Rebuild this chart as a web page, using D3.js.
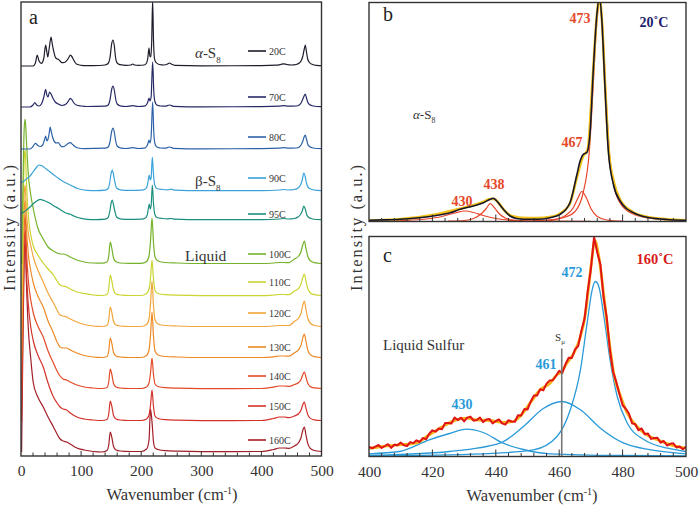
<!DOCTYPE html>
<html><head><meta charset="utf-8">
<script src="https://cdn.jsdelivr.net/npm/d3@7"></script>
<style>body{margin:0;background:#fff}svg{display:block}text{font-family:'Liberation Serif' !important}</style>
</head><body><svg id="chart" width="699" height="506"></svg>
<script>
// ---------------- DATA ----------------
const temps   = ["20C","70C","80C","90C","95C","100C","110C","120C","130C","140C","150C","160C"];
const offsets = [390, 349, 307, 265, 236, 192, 160, 129, 98, 67, 35, 4];
const colors  = ["#1e1d2b","#262a66","#2d62a8","#3aa2d9","#1b8f7e","#74b22a","#cbd431","#f2a63c","#ee8a26","#e34a27","#d3322a","#a21e27"];
const ticksA = [0,100,200,300,400,500];
const ticksC = [400,420,440,460,480,500];

// solid spectra [wavenumber, intensity]
const s20 = [[0,0],[20,0],[24,3],[27,11],[30,5],[34,2.7],[38,8],[41,21],[43,14],[44.5,9],[47,18],[50,29],[52,22],[54,16],[57,9],[60,7],[62,6.7],[65,5],[68,3.3],[72,3.5],[76,5.3],[80,9],[82,11],[84,10],[87,6.7],[90,3.5],[93,1.7],[100,0.7],[110,0.3],[130,0.5],[140,1],[145,2.5],[148,8],[151,22.7],[153,26],[155.5,19],[157,10],[159,4],[162,2],[165,1.3],[175,0.6],[183,1],[186,2],[189,1],[195,0.6],[205,1],[209,3],[211,8],[213,18],[214.5,10],[216,9],[217.5,25],[219,66],[220.5,25],[222,8],[224,4],[230,1.5],[238,1],[244,2],[247,3],[250,2],[256,0.6],[300,0.2],[400,0.3],[425,0.8],[432,1.5],[437,2.2],[442,1.5],[450,1],[458,1.5],[463,3],[466,5],[469,10],[471,16],[473,21],[475,14],[477,7],[480,3.5],[485,1.5],[492,0.6],[500,0.3]];
const s70 = [[0,0],[15,0],[20,2],[23,4.3],[26,2],[30,1],[34,3],[38,10],[41,17.7],[43,12],[45,10],[47.5,15],[50,13],[53,9],[57,5],[62,3],[68,1.5],[75,3],[80,7],[82,8.7],[85,7],[88,4],[92,2],[100,1],[110,0.5],[140,0.8],[145,2],[148,7],[151,18],[153,21],[155.5,16],[157.5,8],[160,3],[165,1.2],[175,0.5],[186,1.3],[195,0.5],[205,0.8],[209,2.5],[211,5],[213,9],[214.5,6],[216.5,10],[219,45],[221,15],[223,5],[226,2],[232,1],[240,0.8],[247,2],[254,0.7],[300,0.2],[400,0.3],[430,0.8],[437,1.3],[445,0.8],[458,1],[463,2],[466,4],[469,8],[471,11],[473,13],[475,9],[477,5],[480,2.5],[486,1],[500,0.3]];
const s80 = [[0,0],[15,0],[20,2.5],[24,5.7],[28,3.5],[32,2.5],[36,4],[39,9],[41,13],[43,8],[45,10],[47,16],[48.5,22],[50.5,17],[53,11],[56,7],[59,6],[62,6.3],[65,4],[68,2.3],[72,2.5],[77,5],[82,6.3],[86,4.5],[90,2.3],[95,1],[105,0.4],[140,0.8],[145,2],[148,7],[151,18],[153,21],[155.5,16],[157.5,8],[160,3],[165,1.2],[175,0.5],[186,1.3],[195,0.5],[205,0.8],[209,2.5],[211,5],[213,9],[214.5,6],[216.5,12],[219,47],[221,16],[223,5],[226,2],[232,1],[240,0.8],[247,2],[254,0.7],[300,0.2],[400,0.3],[430,0.8],[437,1.3],[445,0.8],[458,1],[463,2],[466,4],[469,8],[471,12],[473,14],[475,10],[477,5],[480,2.5],[486,1],[500,0.3]];
const s90 = [[0,8.3],[5,10],[10,12.5],[15,15],[20,19],[25,23],[30,26],[34,25.5],[37,24.3],[42,22],[48,19.3],[55,16],[62,12.7],[69,10],[76,7.7],[82,6],[87,4.5],[93,2.7],[100,1.5],[110,0.6],[125,0.3],[140,0.8],[145,2.5],[147.5,8],[150,18],[152,21],[154,16],[156.5,8],[159,3],[165,1.2],[180,0.6],[200,0.8],[207,2],[210,5],[212,12],[213.5,16],[215,11],[216.5,13],[218.5,34],[220.5,16],[222.5,6],[226,2.5],[235,1.5],[244,1.2],[250,1.8],[256,0.8],[300,0.3],[400,0.4],[430,1],[437,1.5],[445,1],[455,1.5],[461,3],[465,6],[468,11],[470.5,18],[473,14],[475,8],[478,3.5],[484,1.5],[492,0.6],[500,0.4]];
const s95 = [[0,6.7],[5,8],[10,10.5],[15,13],[20,16],[25,18.5],[31.7,20.7],[38,19.5],[48,16.7],[55,14],[62,11.7],[69,9],[76,6.7],[82,5.7],[87,4.2],[93,2.7],[100,1.6],[110,0.7],[125,0.3],[140,0.8],[145,2.5],[147.5,8],[150,17],[152,20],[154,15],[156.5,8],[159,3],[165,1.2],[180,0.6],[200,0.8],[207,2],[210,5],[212,12],[213.5,16],[215,11],[216.5,14],[218.5,35],[220.5,16],[222.5,6],[226,2.5],[235,1.5],[244,1.2],[250,1.5],[256,0.8],[300,0.3],[400,0.4],[430,1],[437,1.5],[445,1],[455,1.5],[461,3],[465,5.5],[468,9],[470.5,14],[473,11],[475,6],[478,3],[484,1.3],[492,0.5],[500,0.3]];

// liquid spectra on a shared wavenumber grid
const wLiquid = [1,3,5.5,7,9,12,16,20.5,28,37,45,54,60,65,70,76,82,93,105,120,135,143,146,148.5,151,154,158,165,180,200,209,213,215.5,218,220.5,223,228,240,260,300,400,420,430,438,446,455,462,466,469,471.5,474,477,481,488,500];
const l100 = [0,70,138,145,124,91,70,55,36,25,17,13,11,10,10,9,7,4,2,1,0.8,2,8,22,16,6,2.2,1,0.6,0.6,2.5,8,23,46,21,7,3,1.5,1,0.5,0.5,1,1.5,1.5,1.4,5,8,12.5,19.5,23,16,8,3.5,1.4,0.5];
const l110 = [0,70,139,146,115,82,62,50,41,33,27,21,15,11,10,9,7,4,2.5,1,0.5,1.5,7.5,21,15.5,6,2,1,0.5,0.5,2.5,7,18,36,16.5,5.5,2.5,1.3,0.8,0.4,0.4,1,1.5,1.5,1.4,5,7.7,12,18.7,22,15.4,7.7,3.3,1.3,0.5];
const l120 = [0,70,135,142,115,95,82,70,57,45,34,24,17,12,11,10,8,5,2.5,1,0.5,1.5,7,20,15,5.5,2,1,0.5,0.5,2.5,8,23,46,21,7,3,1.5,1,0.5,0.5,1,1.5,1.5,1.5,5.7,9,14,22,26,18,9,4,1.5,0.5];
const l130 = [0,75,150,158,130,105,88,75,62,51,37,25,16,11,10,10,8,5,2.5,1,0.5,1.5,7,20,15,5.5,2,1,0.5,0.5,2.5,8,23,46,21,7,3,1.5,1,0.5,0.5,1.2,2,2,1.8,5.3,8.4,13,20.4,24,17,8.4,3.6,1.4,0.5];
const l140 = [0,80,165,174,140,110,90,76,63,52,38,26,18,13,10,9,7,4,2,1,0.5,1.5,7,20,15,5.5,2,1,0.5,0.5,2,6,16,31,14,5,2.5,1.3,0.8,0.4,0.5,1.8,3,3,2.6,4.5,6.5,9.5,14.5,17,12,6,2.6,1.1,0.5];
const l150 = [0,90,182,191,150,118,95,80,66,54,38,24,18,14,12,11,8,4,2,1,0.5,1.5,7,20,15,5.5,2,1,0.5,0.5,2,6,16,31,14,5,2.5,1.3,0.8,0.4,0.5,2.5,4,4,3.4,5,7.5,11,16.5,19,13.3,6.6,2.9,1.2,0.5];
const l160 = [0,100,200,212,170,125,95,69,55,45,35,25,18,13,11,10,8,4,2,0.5,0,1.5,7,20,15,5.5,2,1,0.5,0.5,3,12,43,30,10,4,2.5,1.3,0.8,0.4,0.5,2.5,4,4,3.6,6,9.5,14.5,22,25,17.5,8.8,3.8,1.5,0.5];

// panel b (20 C): measured, fit and components
const bData = [[400,1.2],[405,1.6],[409.8,2.2],[415,3.5],[420.3,5.5],[423,7],[425.6,8.8],[428.7,12.2],[432.9,15.5],[436.1,18.8],[438.2,22.2],[439.2,23.2],[440.3,20.5],[442.4,12.2],[444.5,5.5],[446.5,3],[448.7,2.2],[452.9,2.2],[457.1,3.8],[460.3,7.2],[463.4,18.8],[465.5,45.7],[466.6,60.5],[467.6,67.2],[468.7,68.8],[469.7,87],[470.8,153.8],[471.8,203.8],[472.7,224],[473.4,203.8],[474.4,137],[475.5,70.5],[477.1,37],[479.2,20.5],[481.2,13],[483.4,8.8],[486,5.5],[488.6,3.8],[494,2],[499.1,1.2],[500,1.1]];
const bFit = [[400,1],[410,2.5],[420,6.5],[425,10],[429,13],[433,16.5],[436,19.5],[438.2,22.5],[439.5,22.5],[441,18],[443,10],[445,5.5],[448,3.8],[453,3.5],[457,4.5],[460,7.5],[463.4,18],[465.5,43],[467.5,65],[469,72],[470.5,140],[471.8,203],[472.7,224],[473.5,200],[474.5,135],[475.6,72],[477.2,40],[479.2,22],[483,10],[488,4.5],[494,2.3],[500,1.3]];
const b430 = [[400,0.3],[410,1],[418,2.5],[423,5],[427,8.5],[430.3,10.5],[433,9],[436,6],[440,3],[445,1.2],[455,0.4],[470,0.2]];
const b438 = [[425,0.3],[430,1],[433,3],[435.5,8],[437,13],[438.2,17.8],[439.5,14],[441,8],[443,3.5],[446,1.2],[452,0.3]];
const b467 = [[455,0.5],[459,2],[462,6],[464.5,14],[466,24],[467.1,30],[468.5,24],[470,13],[472,5],[475,1.5],[480,0.3]];
const b473 = [[452,0.8],[458,2],[462,4.5],[465,10],[467.5,28],[469.5,70],[470.8,140],[471.9,200],[472.8,222],[473.7,195],[474.7,130],[475.8,70],[477.3,35],[479.5,17],[483,8],[488,3.5],[495,1.5],[500,1]];

// panel c (160 C): measured (1 cm-1 steps from 400), fit and components
const cData = [9.5,8.2,9.9,11.5,8.5,10.5,12.3,8.6,11.8,11.2,14.0,11.2,10.5,14.4,13.4,16.2,14.5,18.6,17.2,22.8,26.2,24.8,28.0,27.2,33.4,33.5,32.9,39.0,36.4,38.8,35.1,38.9,39.9,35.8,36.4,39.0,34.4,37.1,37.6,33.0,35.5,37.0,33.1,31.9,36.3,35.0,34.7,41.3,41.1,47.4,47.0,54.8,60.9,60.9,67.2,66.1,72.9,76.1,76.2,80.8,85.7,83.6,92.5,98.7,98.5,107.1,110.5,125.8,138.0,165.5,187.5,219.5,204.0,192.0,159.0,138.8,106.5,84.8,74.6,62.5,51.2,47.8,43.0,33.1,32.2,26.3,28.0,22.2,23.1,17.6,18.5,18.8,13.8,15.5,11.0,12.7,13.2,9.0,10.0,7.2,9.8];
const cFit = [[400,8.3],[404.2,10],[409.5,11.7],[414.8,13.3],[419,21.7],[423.3,30],[427.5,36.7],[430.7,38.3],[433.9,36.7],[438.1,36],[442.3,34],[445.5,35],[447.6,40],[450.8,53.3],[454,66.7],[457.1,73.3],[459.3,81.7],[460.8,85],[462.4,93.3],[464.6,103.3],[466.7,120],[468.3,143.3],[469.3,170],[470.4,200],[471.2,216],[472.5,200],[474.1,160],[475.7,116.7],[477.2,83.3],[479.4,60],[481.5,43.3],[483.6,33.3],[486.8,23.3],[491,16.7],[495.2,11.7],[500,8.3]];
const c430 = [[400,2.7],[409.5,5],[419,16.7],[425.4,23],[430.7,27.3],[436,24],[442.3,13.3],[448.7,7],[457.1,2.7],[478.3,1],[500,0.7]];
const c461 = [[400,1],[425.4,5],[441.3,13.3],[448.7,30],[455,48],[460.8,55],[466.7,46.7],[473,28.3],[480.4,13.3],[488.9,6.7],[500,2.7]];
const c472 = [[400,0.5],[436,2.7],[451.9,6.7],[459.3,20],[463.5,46.7],[466.7,86.7],[468.8,133.3],[470.4,166.7],[471.4,175],[472.5,170],[474.1,140],[476.2,93.3],[478.3,60],[481.5,33.3],[486.8,16.7],[494.2,8.3],[500,5]];
const sMu = 460.8;

// ---------------- LAYOUT ----------------
const FONT = "'Liberation Serif'";
const svg = d3.select("#chart");
const ink = "#333";
const xA = d3.scaleLinear([0,500],[21,321.5]);
const yA = d3.scaleLinear([0,454],[456,2]);
const xB = d3.scaleLinear([400,500],[369,686]);
const yB = d3.scaleLinear([0,219],[221.5,2.5]);
const xC = d3.scaleLinear([400,500],[369,686]);
const yC = d3.scaleLinear([0,220],[456.5,236.5]);
const legendY = [51,97,137,178,214,254,282,313,347,376,406,440];

function clip(id, x0, y0, x1, y1){
  svg.append("clipPath").attr("id",id).append("rect")
    .attr("x",x0).attr("y",y0).attr("width",x1-x0).attr("height",y1-y0);
}
clip("ca", xA(0), yA(454), xA(500), yA(0));
clip("cb", xB(400), yB(219), xB(500), yB(0));
clip("cc", xC(400), yC(220), xC(500), yC(0));

// ----- panel a -----
const ga = svg.append("g").attr("clip-path","url(#ca)");
const solids = [s20,s70,s80,s90,s95];
const liquids = [l100,l110,l120,l130,l140,l150,l160];
const series = temps.map((t,i)=>{
  const pts = i < 5 ? solids[i] : wLiquid.map((w,j)=>[w, liquids[i-5][j]]);
  return {t, off: offsets[i], color: colors[i], pts};
});
series.slice().reverse().forEach(s=>{
  const line = d3.line().x(d=>xA(d[0])).y(d=>yA(d[1]+s.off)).curve(d3.curveMonotoneX);
  ga.append("path").attr("d",line(s.pts)).attr("fill","none")
    .attr("stroke",s.color).attr("stroke-width",1.2).attr("stroke-linejoin","round");
});
series.forEach((s,i)=>{
  svg.append("line").attr("x1",248).attr("x2",266).attr("y1",legendY[i]).attr("y2",legendY[i])
    .attr("stroke",s.color).attr("stroke-width",1.6);
  svg.append("text").attr("x",269).attr("y",legendY[i]+3.5).attr("font-size",10)
    .attr("fill","#333").text(s.t);
});

function frame(x0,y0,x1,y1){
  svg.append("rect").attr("x",x0).attr("y",y0).attr("width",x1-x0).attr("height",y1-y0)
    .attr("fill","none").attr("stroke",ink).attr("stroke-width",1.4);
}
function ticks(xs, vals, yBase, len){
  vals.forEach(v=>svg.append("line").attr("x1",xs(v)).attr("x2",xs(v))
    .attr("y1",yBase).attr("y2",yBase-len).attr("stroke",ink).attr("stroke-width",1));
}
frame(xA(0),yA(454),xA(500),yA(0));
ticks(xA, d3.range(20,500,20).filter(v=>v%100), yA(0), 3.5);
ticks(xA, [100,200,300,400], yA(0), 5);
const axA = svg.append("g").attr("transform",`translate(0,${yA(0)})`)
  .call(d3.axisBottom(xA).tickValues(ticksA).tickSize(0).tickPadding(9).tickFormat(d3.format("d")));
axA.select(".domain").remove();
axA.selectAll("text").attr("font-size",15.5).attr("fill","#333");

svg.append("text").attr("x",29).attr("y",24).attr("font-size",20).attr("fill","#222").text("a");
function sub(x,y,size,greek,main,subTxt){
  const t = svg.append("text").attr("x",x).attr("y",y).attr("font-size",size).attr("fill","#333");
  t.append("tspan").attr("font-style", greek==="α" ? "italic" : "normal").text(greek);
  t.append("tspan").text(main);
  t.append("tspan").attr("dy",size*0.3).attr("font-size",size*0.6).text(subTxt);
  return t;
}
sub(195,58,15,"α","-S","8");
sub(195,186,15,"β","-S","8");
svg.append("text").attr("x",185).attr("y",261).attr("font-size",15.5).attr("fill","#333").text("Liquid");

function xTitle(cx, y){
  const t = svg.append("text").attr("x",cx).attr("y",y).attr("text-anchor","middle")
    .attr("font-size",16.5).attr("fill","#333");
  t.append("tspan").text("Wavenumber (cm");
  t.append("tspan").attr("dy",-6).attr("font-size",10).text("-1");
  t.append("tspan").attr("dy",6).text(")");
}
xTitle(172, 500);
xTitle(532, 501);
function yTitle(x, cy){
  svg.append("text").attr("transform",`translate(${x},${cy}) rotate(-90)`)
    .attr("text-anchor","middle").attr("font-size",16.5).attr("fill","#333")
    .attr("textLength",126).attr("lengthAdjust","spacing").text("Intensity (a.u.)");
}
yTitle(15, 228);
yTitle(362, 228);

// ----- panel b -----
const gb = svg.append("g").attr("clip-path","url(#cb)");
const lineB = d3.line().x(d=>xB(d[0])).y(d=>yB(d[1])).curve(d3.curveMonotoneX);
[b430,b438,b467,b473].forEach(c=>gb.append("path").attr("d",lineB(c)).attr("fill","none")
  .attr("stroke","#e8452a").attr("stroke-width",1.2));
gb.append("path").attr("d",lineB(bFit)).attr("fill","none").attr("stroke","#f4c21a").attr("stroke-width",2.6);
gb.append("path").attr("d",lineB(bData)).attr("fill","none").attr("stroke","#16162a").attr("stroke-width",1.6);
frame(xB(400),yB(219),xB(500),yB(0));
ticks(xB, d3.range(404,500,4).filter(v=>v%20), yB(0), 3.5);
ticks(xB, [420,440,460,480], yB(0), 7);
svg.append("text").attr("x",383).attr("y",21).attr("font-size",20).attr("fill","#222").text("b");
const redL = "#e4482a";
function lab(x,y,txt,color,size){
  svg.append("text").attr("x",x).attr("y",y).attr("font-size",size).attr("font-weight","bold")
    .attr("fill",color).attr("text-anchor","middle").text(txt);
}
lab(580,23,"473",redL,14);
lab(572,147,"467",redL,14);
lab(494,189,"438",redL,14);
lab(462,206,"430",redL,14);
lab(654,27,"20˚C","#1c1c6e",14);
sub(413,119,13,"α","-S","8");

// ----- panel c -----
const gc = svg.append("g").attr("clip-path","url(#cc)");
const lineC = d3.line().x(d=>xC(d[0])).y(d=>yC(d[1])).curve(d3.curveMonotoneX);
const blue = "#2a9ad8";
[c430,c461,c472].forEach(c=>gc.append("path").attr("d",lineC(c)).attr("fill","none")
  .attr("stroke",blue).attr("stroke-width",1.3));
gc.append("path").attr("d",lineC(cFit)).attr("fill","none").attr("stroke","#f6b21b").attr("stroke-width",2.8);
const cPts = cData.map((v,i)=>[400+i, v]);
gc.append("path").attr("d",d3.line().x(d=>xC(d[0])).y(d=>yC(d[1]))(cPts)).attr("fill","none")
  .attr("stroke","#e01414").attr("stroke-width",2).attr("stroke-linejoin","round");
svg.append("line").attr("x1",xC(sMu)).attr("x2",xC(sMu)).attr("y1",yC(108)).attr("y2",yC(0))
  .attr("stroke","#777").attr("stroke-width",1.6);
frame(xC(400),yC(220),xC(500),yC(0));
ticks(xC, d3.range(404,500,4).filter(v=>v%20), yC(0), 3.5);
ticks(xC, [420,440,460,480], yC(0), 7);
const axC = svg.append("g").attr("transform",`translate(0,${yC(0)})`)
  .call(d3.axisBottom(xC).tickValues(ticksC).tickSize(0).tickPadding(9).tickFormat(d3.format("d")));
axC.select(".domain").remove();
axC.selectAll("text").attr("font-size",15.5).attr("fill","#333");
svg.append("text").attr("x",383).attr("y",262).attr("font-size",20).attr("fill","#222").text("c");
lab(655,264,"160˚C","#d81a1a",14.5);
lab(572,277,"472",blue,14);
lab(546,369,"461",blue,14);
lab(462,409,"430",blue,14);
svg.append("text").attr("x",383).attr("y",350).attr("font-size",15).attr("fill","#333").text("Liquid Sulfur");
const sm = svg.append("text").attr("x",555).attr("y",341).attr("font-size",11).attr("fill","#333");
sm.append("tspan").text("S");
sm.append("tspan").attr("dy",3).attr("font-size",7).text("μ");

svg.selectAll("text").style("font-family", FONT);
</script></body></html>
